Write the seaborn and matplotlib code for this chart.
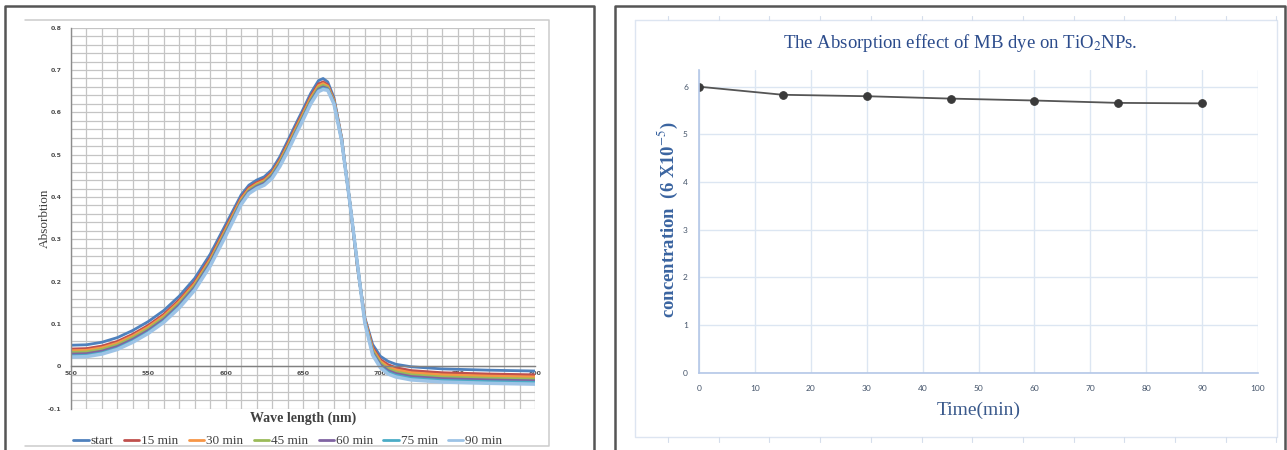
import numpy as np
import pandas as pd
import matplotlib
matplotlib.use("Agg")
import matplotlib.pyplot as plt
import seaborn as sns
from matplotlib.lines import Line2D
from matplotlib.ticker import MultipleLocator, FuncFormatter

# ---------------- data: left panel (UV-vis spectra) ----------------
wavelength = [500, 510, 520, 530, 540, 550, 560, 570, 580, 590, 600,
              610, 615, 620, 625, 630, 635, 640, 645, 650, 655, 660,
              663, 666, 670, 675, 680, 685, 690, 695, 700, 705, 710,
              720, 740, 770, 800]

abs_start = [0.050, 0.051, 0.057, 0.068, 0.085, 0.106, 0.132, 0.166, 0.208, 0.265, 0.335,
             0.405, 0.428, 0.440, 0.448, 0.465, 0.495, 0.532, 0.570, 0.607, 0.645, 0.675,
             0.680, 0.672, 0.635, 0.540, 0.395, 0.240, 0.115, 0.052, 0.024, 0.012, 0.005,
             -0.001, -0.006, -0.009, -0.011]
abs_15 = [0.041, 0.042, 0.048, 0.059, 0.076, 0.097, 0.123, 0.157, 0.199, 0.256, 0.327,
          0.398, 0.422, 0.434, 0.442, 0.459, 0.488, 0.525, 0.563, 0.600, 0.638, 0.667,
          0.672, 0.665, 0.630, 0.538, 0.395, 0.242, 0.112, 0.045, 0.016, 0.004, -0.003,
          -0.010, -0.015, -0.018, -0.020]
abs_30 = [0.037, 0.038, 0.044, 0.055, 0.072, 0.093, 0.119, 0.153, 0.195, 0.252, 0.323,
          0.395, 0.419, 0.431, 0.439, 0.456, 0.485, 0.521, 0.559, 0.596, 0.634, 0.663,
          0.668, 0.662, 0.628, 0.537, 0.395, 0.243, 0.110, 0.041, 0.012, -0.001, -0.008,
          -0.015, -0.020, -0.023, -0.025]
abs_45 = [0.033, 0.034, 0.040, 0.051, 0.068, 0.089, 0.115, 0.149, 0.191, 0.248, 0.319,
          0.391, 0.416, 0.428, 0.436, 0.453, 0.482, 0.517, 0.555, 0.592, 0.630, 0.659,
          0.664, 0.659, 0.626, 0.536, 0.395, 0.244, 0.108, 0.037, 0.008, -0.006, -0.013,
          -0.020, -0.025, -0.028, -0.030]
abs_60 = [0.029, 0.030, 0.036, 0.047, 0.064, 0.085, 0.111, 0.145, 0.187, 0.244, 0.315,
          0.388, 0.413, 0.425, 0.433, 0.450, 0.478, 0.513, 0.551, 0.588, 0.626, 0.655,
          0.660, 0.656, 0.624, 0.535, 0.395, 0.245, 0.106, 0.033, 0.004, -0.010, -0.017,
          -0.024, -0.029, -0.032, -0.034]
abs_75 = [0.025, 0.026, 0.032, 0.043, 0.060, 0.081, 0.107, 0.141, 0.183, 0.240, 0.311,
          0.385, 0.410, 0.422, 0.430, 0.447, 0.475, 0.510, 0.548, 0.585, 0.623, 0.652,
          0.657, 0.654, 0.622, 0.534, 0.395, 0.246, 0.104, 0.030, 0.000, -0.014, -0.021,
          -0.028, -0.033, -0.036, -0.038]
abs_90 = [0.022, 0.023, 0.029, 0.040, 0.057, 0.078, 0.104, 0.138, 0.180, 0.237, 0.308,
          0.382, 0.408, 0.420, 0.428, 0.444, 0.472, 0.507, 0.545, 0.582, 0.620, 0.649,
          0.654, 0.652, 0.620, 0.533, 0.395, 0.247, 0.102, 0.027, -0.003, -0.018, -0.025,
          -0.032, -0.037, -0.040, -0.042]

series_names = ["start", "15 min", "30 min", "45 min", "60 min", "75 min", "90 min"]
series_values = [abs_start, abs_15, abs_30, abs_45, abs_60, abs_75, abs_90]
series_colors = ["#4F81BD", "#C0504D", "#F79646", "#9BBB59", "#8064A2", "#4BACC6", "#9DC3E6"]

x_ticks_left = [500, 550, 600, 650, 700, 750, 800]

# ---------------- data: right panel (concentration vs time) ----------------
time_min = [0, 15, 30, 45, 60, 75, 90]
concentration = [6.00, 5.83, 5.80, 5.75, 5.71, 5.66, 5.65]
x_ticks_right = [0, 10, 20, 30, 40, 50, 60, 70, 80, 90, 100]
y_ticks_right = [0, 1, 2, 3, 4, 5, 6]

# ---------------- styling ----------------
sns.set_theme(style="white")
plt.rcParams["font.family"] = ["Liberation Serif", "DejaVu Sans"]
plt.rcParams["mathtext.fontset"] = "stix"

W, H = 1287, 450
fig = plt.figure(figsize=(W / 100, H / 100), dpi=100)
fig.patch.set_facecolor("white")


def fx(x):
    return x / W


def fy(y):
    return 1 - y / H


def rect_axes(x0, y0, x1, y1):
    return fig.add_axes([fx(x0), fy(y1), fx(x1) - fx(x0), fy(y0) - fy(y1)])


def fig_line(xs, ys, **kw):
    fig.add_artist(Line2D([fx(v) for v in xs], [fy(v) for v in ys],
                          transform=fig.transFigure, **kw))


# ---------------- frames ----------------
fig_line([5, 5, 594, 594], [455, 6, 6, 455], color="#555555", lw=1.8)
fig_line([615, 615, 1285, 1285], [455, 6, 6, 455], color="#555555", lw=1.8)
fig_line([25, 549, 549, 25], [20, 20, 446, 446], color="#CCCCCC", lw=1.1)
fig_line([635, 1277, 1277, 635, 635], [20, 20, 437, 437, 20], color="#DDE5F1", lw=1.0)
for k in range(13):
    xk = 668 + k * 50.7
    fig_line([xk, xk], [16, 20], color="#D5DEEC", lw=0.8)
    fig_line([xk, xk], [437, 442], color="#D5DEEC", lw=0.8)

# ---------------- left panel ----------------
ax1 = rect_axes(71, 27.7, 535, 408.7)
long_rows = []
for name, vals in zip(series_names, series_values):
    for w, v in zip(wavelength, vals):
        long_rows.append((name, w, v))
df_left = pd.DataFrame(long_rows, columns=["series", "wavelength", "absorbance"])

sns.lineplot(data=df_left, x="wavelength", y="absorbance", hue="series",
             hue_order=series_names, palette=series_colors, estimator=None,
             sort=False, linewidth=2.0, legend=False, ax=ax1)
ax1.lines[-1].set_linewidth(2.5)

ax1.set_xlim(500, 800)
ax1.set_ylim(-0.1, 0.8)
ax1.set_xticks(x_ticks_left)
ax1.xaxis.set_minor_locator(MultipleLocator(10))
ax1.yaxis.set_major_locator(MultipleLocator(0.1))
ax1.yaxis.set_minor_locator(MultipleLocator(0.02))
ax1.yaxis.set_major_formatter(FuncFormatter(lambda v, p: f"{round(v, 2):g}"))
ax1.set_axisbelow(True)
ax1.grid(which="both", color="#C4C4C4", lw=0.9)
for s in ["top", "right"]:
    ax1.spines[s].set_visible(False)
ax1.spines["left"].set_color("#8C8C8C")
ax1.spines["left"].set_linewidth(1.0)
ax1.spines["bottom"].set_position(("data", 0))
ax1.spines["bottom"].set_color("#808080")
ax1.spines["bottom"].set_linewidth(1.0)
ax1.tick_params(axis="x", which="major", length=0, pad=3, labelsize=4.5, labelcolor="#505050")
ax1.tick_params(axis="y", which="major", length=5, width=0.8, color="#8C8C8C",
                direction="out", pad=2, labelsize=4.5, labelcolor="#505050")
ax1.tick_params(which="minor", length=0)
ax1.set_xlabel("")
ax1.set_ylabel("")
for lab in ax1.get_xticklabels() + ax1.get_yticklabels():
    lab.set_family(["DejaVu Sans"])
    lab.set_fontweight("bold")

fig.text(fx(45), fy(218), "Absorbtion", rotation=90, ha="center", va="center",
         fontsize=9.5, color="#404040")
fig.text(fx(303), fy(418), "Wave length (nm)", ha="center", va="center",
         fontsize=10, fontweight="bold", color="#404040")

handles = [Line2D([0], [0], color=c, lw=2) for c in series_colors]
fig.legend(handles, series_names, loc="center", bbox_to_anchor=(fx(288), fy(441)),
           ncol=7, frameon=False, fontsize=9.5, handlelength=1.15,
           columnspacing=0.8, handletextpad=0.15, labelcolor="#404040")

# ---------------- right panel ----------------
ax2 = rect_axes(699, 70, 1258, 372.7)
sns.lineplot(x=time_min, y=concentration, ax=ax2, color="#555555", linewidth=1.3,
             marker="o", markersize=5.5, markerfacecolor="#3A3A3A",
             markeredgecolor="#3A3A3A")
ax2.set_xlim(0, 100)
ax2.set_ylim(0, 6.35)
ax2.set_xticks(x_ticks_right)
ax2.set_yticks(y_ticks_right)
ax2.set_axisbelow(True)
ax2.grid(True, color="#DCE6F2", lw=1.0)
for s in ["top", "right"]:
    ax2.spines[s].set_visible(False)
for s in ["left", "bottom"]:
    ax2.spines[s].set_color("#B4C7E7")
    ax2.spines[s].set_linewidth(1.2)
ax2.tick_params(axis="both", length=0, labelsize=6, labelcolor="#44546A")
ax2.tick_params(axis="x", pad=9)
ax2.tick_params(axis="y", pad=8)
for lab in ax2.get_xticklabels() + ax2.get_yticklabels():
    lab.set_family(["Lato", "DejaVu Sans"])
ax2.set_xlabel("")
ax2.set_ylabel("")

fig.text(fx(960), fy(43), "The Absorption effect of MB dye on TiO$_2$NPs.",
         ha="center", va="center", fontsize=13.5, color="#2C4C8C")
fig.text(fx(668), fy(220), "concentration  (6 X10$^{-5}$)", rotation=90,
         ha="center", va="center", fontsize=13.5, fontweight="bold", color="#3A64A0")
fig.text(fx(979), fy(410), "Time(min)", ha="center", va="center",
         fontsize=14, color="#3B5A8C")

fig.savefig("out.png", dpi=100, facecolor="white")
